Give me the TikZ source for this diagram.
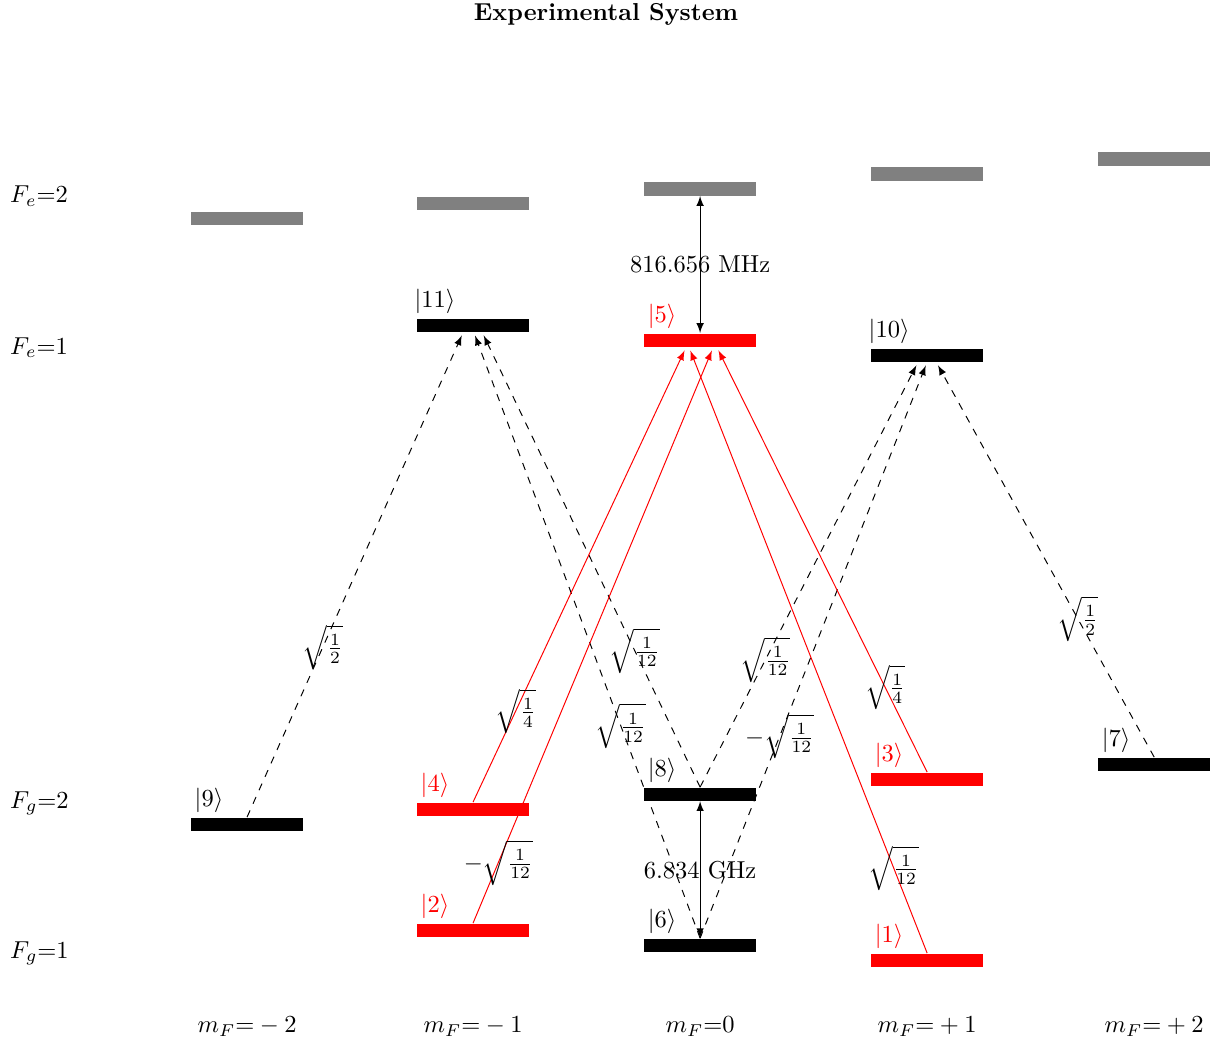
\documentclass[tikz,border=0pt]{standalone}
\usetikzlibrary{arrows}

\begin{document}
\begin{tikzpicture}

\tikzset{level/.style = {shape=rectangle,fill,inner sep=0pt,minimum width=1.607cm,minimum height=0.187cm}}
\tikzset{upper/.style = {level,gray}}
\tikzset{ket/.style = {anchor=south,inner sep=1.6pt}}
\tikzset{manifold/.style = {anchor=base west,inner sep=0pt}}
\tikzset{dipole/.style = {->,> = latex,dashed,shorten >=1.5pt}}
\tikzset{laser/.style = {->,> = latex,red,shorten >=1.5pt}}
\tikzset{split/.style = {<->,> = latex}}
\tikzset{coef/.style = {text=black}}

\useasboundingbox (0,0) rectangle (17.53,15.007);

\node[font=\bfseries,anchor=base] (title) at (8.694,14.72) {Experimental System};

%F_e=2
\node[upper] (e2m2) at (3.544,11.866) {};
\node[upper] (e2m1) at (6.786,12.081) {};
\node[upper] (e2m0) at (10.043,12.296) {};
\node[upper] (e2p1) at (13.300,12.511) {};
\node[upper] (e2p2) at (16.557,12.726) {};

%F_e=1
\node[level] (l11) at (6.786,10.344) {};
\node[level,red] (l5) at (10.043,10.129) {};
\node[level] (l10) at (13.300,9.914) {};

%F_g=2
\node[level] (l9) at (3.544,3.185) {};
\node[level,red] (l4) at (6.786,3.400) {};
\node[level] (l8) at (10.043,3.615) {};
\node[level,red] (l3) at (13.300,3.830) {};
\node[level] (l7) at (16.557,4.045) {};

%F_g=1
\node[level,red] (l2) at (6.786,1.664) {};
\node[level] (l6) at (10.043,1.449) {};
\node[level,red] (l1) at (13.300,1.234) {};

%kets
\node[ket] (k11) at ([xshift=0.265cm]l11.north west) {$|11\rangle$};
\node[ket,red] (k5) at ([xshift=0.265cm]l5.north west) {$|5\rangle$};
\node[ket] (k10) at ([xshift=0.265cm]l10.north west) {$|10\rangle$};
\node[ket] (k9) at ([xshift=0.265cm]l9.north west) {$|9\rangle$};
\node[ket,red] (k4) at ([xshift=0.265cm]l4.north west) {$|4\rangle$};
\node[ket] (k8) at ([xshift=0.265cm]l8.north west) {$|8\rangle$};
\node[ket,red] (k3) at ([xshift=0.265cm]l3.north west) {$|3\rangle$};
\node[ket] (k7) at ([xshift=0.265cm]l7.north west) {$|7\rangle$};
\node[ket,red] (k2) at ([xshift=0.265cm]l2.north west) {$|2\rangle$};
\node[ket] (k6) at ([xshift=0.265cm]l6.north west) {$|6\rangle$};
\node[ket,red] (k1) at ([xshift=0.265cm]l1.north west) {$|1\rangle$};

%manifold labels
\node[manifold] (fe2) at (0.14,12.095) {$F_e$=2};
\node[manifold] (fe1) at (0.14,9.928) {$F_e$=1};
\node[manifold] (fg2) at (0.14,3.415) {$F_g$=2};
\node[manifold] (fg1) at (0.14,1.263) {$F_g$=1};

\node[anchor=base] (mm2) at (3.544,0.19) {$m_F$=${}-2$};
\node[anchor=base] (mm1) at (6.786,0.19) {$m_F$=${}-1$};
\node[anchor=base] (m0) at (10.043,0.19) {$m_F$=0};
\node[anchor=base] (mp1) at (13.300,0.19) {$m_F$=${}+1$};
\node[anchor=base] (mp2) at (16.557,0.19) {$m_F$=${}+2$};

%splittings
\draw[split] (e2m0.south) -- (l5.north) node[midway] {816.656 MHz};
\draw[split] (l8.south) -- (l6.north) node[midway] {6.834 GHz};

%couplings to |11> and |10>
\draw[dipole] (l9.north) -- ([xshift=-0.14cm]l11.south) node[pos=0.35] {$\sqrt{\frac{1}{2}}$};
\draw[dipole] (l6.north) -- ([xshift=0.01cm]l11.south) node[pos=0.35] {$\sqrt{\frac{1}{12}}$};
\draw[dipole] (l8.north) -- ([xshift=0.13cm]l11.south) node[pos=0.3] {$\sqrt{\frac{1}{12}}$};
\draw[dipole] (l8.north) -- ([xshift=-0.13cm]l10.south) node[pos=0.3] {$\sqrt{\frac{1}{12}}$};
\draw[dipole] (l6.north) -- (l10.south) node[pos=0.35] {$-\sqrt{\frac{1}{12}}$};
\draw[dipole] (l7.north) -- ([xshift=0.13cm]l10.south) node[pos=0.35] {$\sqrt{\frac{1}{2}}$};

%couplings to |5>
\draw[laser] (l4.north) -- ([xshift=-0.2cm]l5.south) node[coef,pos=0.2] {$\sqrt{\frac{1}{4}}$};
\draw[laser] (l2.north) -- ([xshift=0.19cm]l5.south) node[coef,pos=0.105] {$-\sqrt{\frac{1}{12}}$};
\draw[laser] (l3.north) -- ([xshift=0.24cm]l5.south) node[coef,pos=0.2] {$\sqrt{\frac{1}{4}}$};
\draw[laser] (l1.north) -- ([xshift=-0.16cm]l5.south) node[coef,pos=0.14] {$\sqrt{\frac{1}{12}}$};

\end{tikzpicture}
\end{document}
